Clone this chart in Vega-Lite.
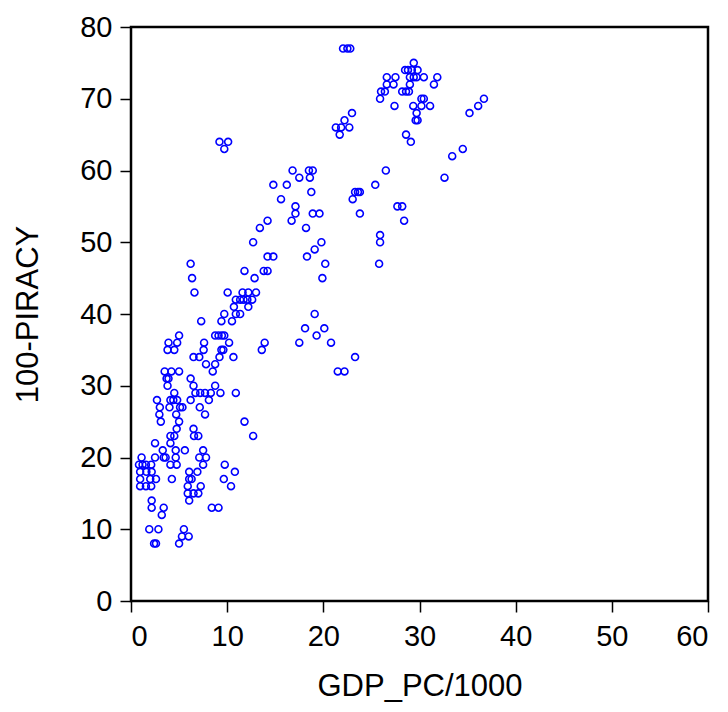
{
  "$schema": "https://vega.github.io/schema/vega-lite/v6.json",
  "width": 577,
  "height": 574,
  "autosize": {"type": "none"},
  "padding": {"left": 131, "top": 27, "right": 20, "bottom": 111},
  "background": "white",
  "config": {
    "view": {"stroke": "black", "strokeWidth": 2.5},
    "axis": {
      "grid": false,
      "domain": false,
      "tickColor": "black",
      "tickSize": 11,
      "tickWidth": 1.5,
      "labelFont": "Liberation Sans",
      "labelFontSize": 29,
      "labelColor": "black",
      "titleFont": "Liberation Sans",
      "titleFontSize": 31,
      "titleFontWeight": "normal",
      "titleColor": "black"
    }
  },
  "data": {
    "values": [
      {"gdp": 2.5, "p": 22}, {"gdp": 4.1, "p": 22},
      {"gdp": 3.3, "p": 21}, {"gdp": 4.65, "p": 21}, {"gdp": 5.6, "p": 21}, {"gdp": 7.5, "p": 21},
      {"gdp": 1.1, "p": 20}, {"gdp": 2.5, "p": 20}, {"gdp": 3.4, "p": 20}, {"gdp": 3.6, "p": 20}, {"gdp": 4.65, "p": 20}, {"gdp": 7.1, "p": 20}, {"gdp": 7.8, "p": 20},
      {"gdp": 0.83, "p": 19}, {"gdp": 1.2, "p": 19}, {"gdp": 1.55, "p": 19}, {"gdp": 2.1, "p": 19}, {"gdp": 4.1, "p": 19}, {"gdp": 4.75, "p": 19}, {"gdp": 7.5, "p": 19}, {"gdp": 9.75, "p": 19},
      {"gdp": 0.95, "p": 18}, {"gdp": 1.6, "p": 18}, {"gdp": 2.15, "p": 18}, {"gdp": 6.05, "p": 18}, {"gdp": 6.9, "p": 18}, {"gdp": 10.8, "p": 18},
      {"gdp": 0.95, "p": 17}, {"gdp": 2.0, "p": 17}, {"gdp": 2.6, "p": 17}, {"gdp": 4.25, "p": 17}, {"gdp": 6.05, "p": 17}, {"gdp": 6.3, "p": 17}, {"gdp": 9.65, "p": 17},
      {"gdp": 0.95, "p": 16}, {"gdp": 1.55, "p": 16}, {"gdp": 2.1, "p": 16}, {"gdp": 5.9, "p": 16}, {"gdp": 7.25, "p": 16}, {"gdp": 10.4, "p": 16},
      {"gdp": 5.9, "p": 15}, {"gdp": 6.5, "p": 15}, {"gdp": 7.0, "p": 15},
      {"gdp": 2.15, "p": 14}, {"gdp": 6.05, "p": 14},
      {"gdp": 2.15, "p": 13}, {"gdp": 3.4, "p": 13}, {"gdp": 8.4, "p": 13}, {"gdp": 9.1, "p": 13},
      {"gdp": 3.2, "p": 12},
      {"gdp": 1.9, "p": 10}, {"gdp": 2.85, "p": 10}, {"gdp": 5.5, "p": 10},
      {"gdp": 5.3, "p": 9}, {"gdp": 6.0, "p": 9},
      {"gdp": 2.4, "p": 8}, {"gdp": 2.6, "p": 8}, {"gdp": 5.0, "p": 8},
      {"gdp": 4.1, "p": 23}, {"gdp": 4.5, "p": 23}, {"gdp": 6.55, "p": 23}, {"gdp": 7.0, "p": 23}, {"gdp": 12.7, "p": 23},
      {"gdp": 4.75, "p": 24}, {"gdp": 6.5, "p": 24},
      {"gdp": 3.1, "p": 25}, {"gdp": 5.0, "p": 25}, {"gdp": 11.8, "p": 25},
      {"gdp": 2.95, "p": 26}, {"gdp": 4.7, "p": 26}, {"gdp": 7.7, "p": 26},
      {"gdp": 3.0, "p": 27}, {"gdp": 4.0, "p": 27}, {"gdp": 5.1, "p": 27}, {"gdp": 5.35, "p": 27}, {"gdp": 7.15, "p": 27},
      {"gdp": 2.7, "p": 28}, {"gdp": 4.1, "p": 28}, {"gdp": 4.4, "p": 28}, {"gdp": 4.8, "p": 28}, {"gdp": 6.2, "p": 28}, {"gdp": 8.1, "p": 28},
      {"gdp": 4.5, "p": 29}, {"gdp": 6.7, "p": 29}, {"gdp": 7.2, "p": 29}, {"gdp": 7.7, "p": 29}, {"gdp": 8.3, "p": 29}, {"gdp": 9.3, "p": 29}, {"gdp": 10.9, "p": 29},
      {"gdp": 3.8, "p": 30}, {"gdp": 6.5, "p": 30}, {"gdp": 8.75, "p": 30},
      {"gdp": 3.7, "p": 31}, {"gdp": 3.9, "p": 31}, {"gdp": 6.2, "p": 31},
      {"gdp": 3.5, "p": 32}, {"gdp": 4.2, "p": 32}, {"gdp": 5.0, "p": 32}, {"gdp": 8.5, "p": 32}, {"gdp": 21.5, "p": 32}, {"gdp": 22.2, "p": 32},
      {"gdp": 7.8, "p": 33}, {"gdp": 8.75, "p": 33},
      {"gdp": 6.5, "p": 34}, {"gdp": 7.1, "p": 34}, {"gdp": 9.2, "p": 34}, {"gdp": 10.65, "p": 34}, {"gdp": 23.3, "p": 34},
      {"gdp": 3.8, "p": 35}, {"gdp": 4.5, "p": 35}, {"gdp": 7.55, "p": 35}, {"gdp": 9.4, "p": 35}, {"gdp": 9.6, "p": 35}, {"gdp": 13.6, "p": 35},
      {"gdp": 3.9, "p": 36}, {"gdp": 4.8, "p": 36}, {"gdp": 7.6, "p": 36}, {"gdp": 10.2, "p": 36}, {"gdp": 13.9, "p": 36}, {"gdp": 17.5, "p": 36}, {"gdp": 20.8, "p": 36},
      {"gdp": 5.0, "p": 37}, {"gdp": 8.75, "p": 37}, {"gdp": 9.1, "p": 37}, {"gdp": 9.45, "p": 37}, {"gdp": 9.7, "p": 37}, {"gdp": 19.3, "p": 37},
      {"gdp": 18.1, "p": 38}, {"gdp": 20.1, "p": 38},
      {"gdp": 7.3, "p": 39}, {"gdp": 9.4, "p": 39}, {"gdp": 10.5, "p": 39},
      {"gdp": 9.7, "p": 40}, {"gdp": 10.9, "p": 40}, {"gdp": 11.35, "p": 40}, {"gdp": 19.1, "p": 40},
      {"gdp": 10.7, "p": 41}, {"gdp": 12.2, "p": 41},
      {"gdp": 10.9, "p": 42}, {"gdp": 11.35, "p": 42}, {"gdp": 11.7, "p": 42}, {"gdp": 12.1, "p": 42}, {"gdp": 12.6, "p": 42},
      {"gdp": 6.6, "p": 43}, {"gdp": 10.05, "p": 43}, {"gdp": 11.6, "p": 43}, {"gdp": 12.2, "p": 43}, {"gdp": 13.0, "p": 43},
      {"gdp": 6.35, "p": 45}, {"gdp": 12.85, "p": 45}, {"gdp": 19.9, "p": 45},
      {"gdp": 11.8, "p": 46}, {"gdp": 13.8, "p": 46}, {"gdp": 14.2, "p": 46},
      {"gdp": 6.2, "p": 47}, {"gdp": 20.2, "p": 47}, {"gdp": 25.8, "p": 47},
      {"gdp": 14.2, "p": 48}, {"gdp": 14.8, "p": 48}, {"gdp": 18.3, "p": 48},
      {"gdp": 19.1, "p": 49},
      {"gdp": 12.7, "p": 50}, {"gdp": 19.8, "p": 50}, {"gdp": 25.9, "p": 50},
      {"gdp": 25.9, "p": 51},
      {"gdp": 13.4, "p": 52}, {"gdp": 18.2, "p": 52},
      {"gdp": 14.2, "p": 53}, {"gdp": 16.7, "p": 53}, {"gdp": 28.4, "p": 53},
      {"gdp": 17.1, "p": 54}, {"gdp": 18.9, "p": 54}, {"gdp": 19.6, "p": 54}, {"gdp": 23.8, "p": 54},
      {"gdp": 17.1, "p": 55}, {"gdp": 27.7, "p": 55}, {"gdp": 28.2, "p": 55},
      {"gdp": 15.6, "p": 56}, {"gdp": 23.05, "p": 56},
      {"gdp": 18.75, "p": 57}, {"gdp": 23.3, "p": 57}, {"gdp": 23.6, "p": 57}, {"gdp": 23.8, "p": 57},
      {"gdp": 14.8, "p": 58}, {"gdp": 16.2, "p": 58}, {"gdp": 25.4, "p": 58},
      {"gdp": 17.5, "p": 59}, {"gdp": 18.6, "p": 59}, {"gdp": 32.6, "p": 59},
      {"gdp": 16.8, "p": 60}, {"gdp": 18.5, "p": 60}, {"gdp": 18.9, "p": 60}, {"gdp": 26.5, "p": 60},
      {"gdp": 33.4, "p": 62},
      {"gdp": 9.7, "p": 63}, {"gdp": 34.5, "p": 63},
      {"gdp": 9.2, "p": 64}, {"gdp": 10.1, "p": 64}, {"gdp": 29.1, "p": 64},
      {"gdp": 21.7, "p": 65}, {"gdp": 28.6, "p": 65},
      {"gdp": 21.3, "p": 66}, {"gdp": 21.85, "p": 66}, {"gdp": 22.7, "p": 66},
      {"gdp": 22.2, "p": 67}, {"gdp": 29.6, "p": 67}, {"gdp": 29.8, "p": 67},
      {"gdp": 22.98, "p": 68}, {"gdp": 29.7, "p": 68}, {"gdp": 35.2, "p": 68},
      {"gdp": 27.4, "p": 69}, {"gdp": 29.35, "p": 69}, {"gdp": 30.2, "p": 69}, {"gdp": 31.1, "p": 69}, {"gdp": 36.1, "p": 69},
      {"gdp": 25.9, "p": 70}, {"gdp": 30.2, "p": 70}, {"gdp": 30.45, "p": 70}, {"gdp": 36.7, "p": 70},
      {"gdp": 26.0, "p": 71}, {"gdp": 26.4, "p": 71}, {"gdp": 28.2, "p": 71}, {"gdp": 28.6, "p": 71}, {"gdp": 28.9, "p": 71},
      {"gdp": 26.6, "p": 72}, {"gdp": 27.3, "p": 72}, {"gdp": 29.0, "p": 72}, {"gdp": 31.5, "p": 72},
      {"gdp": 26.6, "p": 73}, {"gdp": 27.5, "p": 73}, {"gdp": 29.0, "p": 73}, {"gdp": 29.4, "p": 73}, {"gdp": 29.7, "p": 73}, {"gdp": 30.45, "p": 73}, {"gdp": 31.85, "p": 73},
      {"gdp": 28.5, "p": 74}, {"gdp": 28.8, "p": 74}, {"gdp": 29.2, "p": 74}, {"gdp": 29.8, "p": 74},
      {"gdp": 29.4, "p": 75},
      {"gdp": 22.05, "p": 77}, {"gdp": 22.5, "p": 77}, {"gdp": 22.8, "p": 77}
    ]
  },
  "mark": {"type": "point", "shape": "circle", "filled": false, "color": "#0000FF", "strokeWidth": 1.6, "size": 48, "opacity": 1},
  "encoding": {
    "x": {
      "field": "gdp", "type": "quantitative",
      "scale": {"domain": [0, 60], "nice": false, "zero": false},
      "axis": {"values": [0, 10, 20, 30, 40, 50, 60], "title": "GDP_PC/1000", "labelPadding": 10, "titlePadding": 20}
    },
    "y": {
      "field": "p", "type": "quantitative",
      "scale": {"domain": [0, 80], "nice": false, "zero": false},
      "axis": {"values": [0, 10, 20, 30, 40, 50, 60, 70, 80], "title": "100-PIRACY", "labelPadding": 8, "titlePadding": 35}
    }
  }
}
